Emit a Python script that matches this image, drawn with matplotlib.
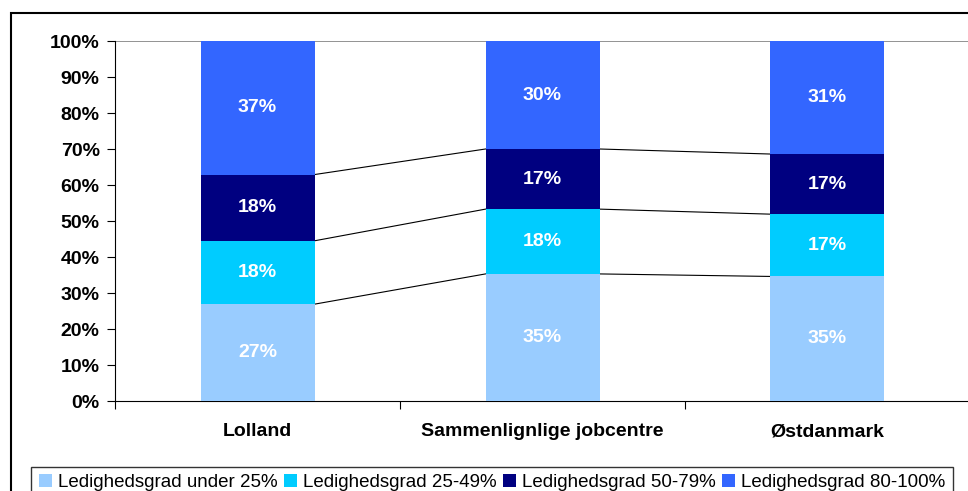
import numpy as np
from matplotlib import pyplot as plt
from matplotlib.patches import Rectangle

categories = ['Lolland', 'Sammenlignlige jobcentre', 'Østdanmark']
series = ['Ledighedsgrad under 25%', 'Ledighedsgrad 25-49%',
          'Ledighedsgrad 50-79%', 'Ledighedsgrad 80-100%']
under25 = [26.9, 35.3, 34.6]
g25_49 = [17.6, 18.0, 17.3]
g50_79 = [18.4, 16.7, 16.7]
g80_100 = [37.1, 30.0, 31.4]
colors = ['#99CCFF', '#00CCFF', '#000080', '#3366FF']
yticks = np.arange(0, 101, 10)

plt.rcParams['font.family'] = ['Liberation Sans', 'DejaVu Sans']

fig = plt.figure(figsize=(9.68, 4.91), dpi=100)
fig.patches.append(Rectangle((11 / 968, -0.2), 1.1, 1.2 - 13 / 491, transform=fig.transFigure,
                             fill=False, edgecolor='black', linewidth=1.5))
ax = fig.add_axes([115 / 968, 1 - 401 / 491, 855 / 968, 360 / 491])

x = np.arange(len(categories))
width = 0.4
data = [under25, g25_49, g50_79, g80_100]
bottom = np.zeros(len(categories))
for vals, col, name in zip(data, colors, series):
    vals = np.array(vals)
    ax.bar(x, vals, width, bottom=bottom, color=col, label=name, zorder=3)
    for xi, b, v in zip(x, bottom, vals):
        ax.text(xi, b + v / 2, '%d%%' % round(v), ha='center', va='center',
                color='white', fontsize=14, fontweight='bold', zorder=4)
    bottom = bottom + vals
    # series lines between bars
    if bottom[0] < 99.9:
        for i in range(len(categories) - 1):
            ax.plot([x[i] + width / 2, x[i + 1] - width / 2], [bottom[i], bottom[i + 1]],
                    color='black', linewidth=0.8, zorder=2)

ax.set_xlim(-0.5, 2.5)
ax.set_ylim(0, 100)
ax.axhline(100, color='#808080', linewidth=1.2, zorder=1)
ax.set_yticks(yticks)
ax.set_yticklabels(['%d%%' % t for t in yticks], fontsize=14, fontweight='bold')
ax.set_xticks([-0.5, 0.5, 1.5, 2.5])
ax.set_xticklabels([])
ax.set_xticks(x, minor=True)
ax.set_xticklabels(categories, minor=True, fontsize=14, fontweight='bold')
ax.tick_params(axis='x', which='minor', length=0, pad=16)
ax.tick_params(axis='x', which='major', length=6, direction='out')
ax.tick_params(axis='y', length=6, direction='out', pad=5)
for s in ['top', 'right']:
    ax.spines[s].set_visible(False)

leg = fig.legend(loc='lower left', bbox_to_anchor=(22 / 968, -0.035, 940 / 968, 0.1),
                 ncol=4, fontsize=13.5, frameon=True, fancybox=False, edgecolor='black',
                 handlelength=0.7, handleheight=0.7, handletextpad=0.3, columnspacing=0.8,
                 borderpad=0.4, mode='expand')
leg.get_frame().set_linewidth(1.0)

plt.savefig('out.png', dpi=100)
